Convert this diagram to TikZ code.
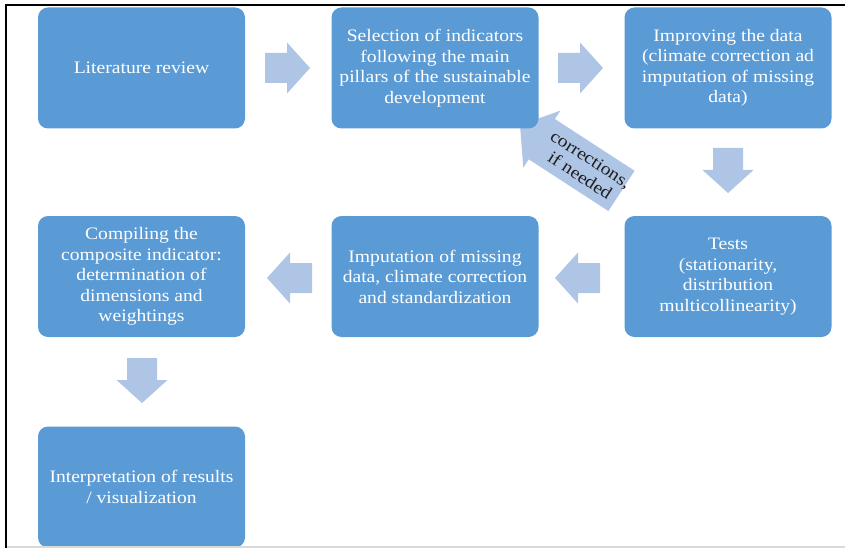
\documentclass[tikz,border=0pt]{standalone}
\usepackage{fontspec}
\setmainfont{Liberation Serif}[FakeStretch=1.12]
\definecolor{boxblue}{RGB}{91,155,213}
\definecolor{arrowblue}{RGB}{174,197,230}
\definecolor{darktext}{RGB}{30,30,30}
\tikzset{
  stepbox/.style={rounded corners=10, fill=boxblue, minimum width=207, minimum height=121,
    inner sep=0pt, text=white, align=center, font=\fontsize{17.5}{20.5}\selectfont},
  arrowfill/.style={fill=arrowblue},
  blockarrow/.pic={\fill[arrowfill] (0,-15) -- (22,-15) -- (22,-25.5) -- (45,0) -- (22,25.5) -- (22,15) -- (0,15) -- cycle;}
}
\begin{document}
\begin{tikzpicture}[x=1pt,y=-1pt]
\useasboundingbox (0,0) rectangle (845,548);
\fill[white] (0,0) rectangle (845,548);
% block arrows
\pic at (265,68) {blockarrow};
\pic at (558,68) {blockarrow};
\pic[rotate=-90] at (728,148) {blockarrow};
\pic[xscale=-1] at (600,278) {blockarrow};
\pic[xscale=-1] at (312,278) {blockarrow};
\pic[rotate=-90] at (142,358) {blockarrow};
% feedback arrow
\begin{scope}[shift={(520,125)}, rotate=-33]
  \fill[arrowfill] (0,0) -- (26,-34) -- (26,-24) -- (121,-24) -- (121,24) -- (26,24) -- (26,34) -- cycle;
  \node[rotate=-33, text=darktext, align=center, inner sep=0pt,
        font=\fontsize{17.5}{19.5}\selectfont] (fb) at (78,0) {corrections,\\if needed};
\end{scope}
% boxes
\node[stepbox] (b1) at (141.5,68) {Literature review};
\node[stepbox] (b2) at (435,68) {Selection of indicators\\following the main\\pillars of the sustainable\\development};
\node[stepbox] (b3) at (728,68) {Improving the data\\(climate correction ad\\imputation of missing\\data)};
\node[stepbox] (b4) at (728,276.5) {Tests\\(stationarity,\\distribution\\multicollinearity)};
\node[stepbox] (b5) at (435,276.5) {Imputation of missing\\data, climate correction\\and standardization};
\node[stepbox] (b6) at (141.5,276.5) {Compiling the\\composite indicator:\\determination of\\dimensions and\\weightings};
\node[stepbox] (b7) at (141.5,487) {Interpretation of results\\/ visualization};
% frame
\draw[black!15, line width=1.2] (6,547) -- (845,547);
\draw[black, line width=2.2] (6,548) -- (6,5) -- (845,5);
\end{tikzpicture}
\end{document}
